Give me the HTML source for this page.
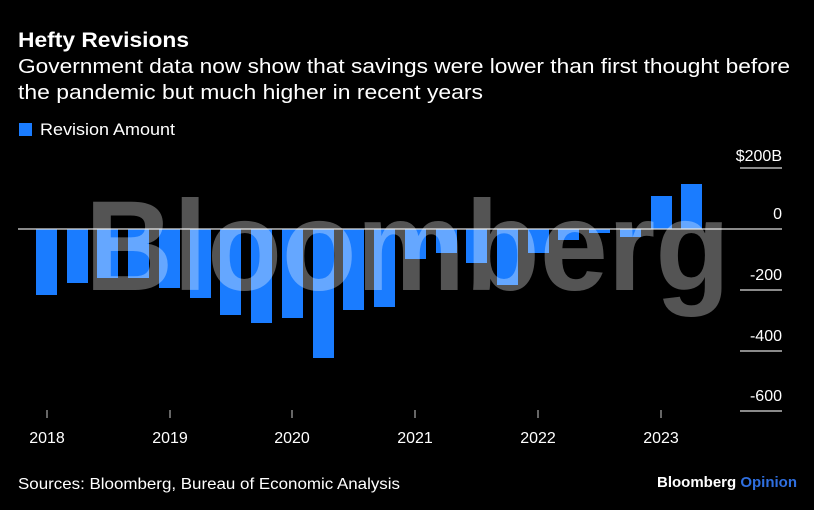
<!DOCTYPE html>
<html><head><meta charset="utf-8"><style>
html,body{margin:0;padding:0;background:#000;}
svg{display:block;font-family:"Liberation Sans",Arial,sans-serif;}
</style></head><body>
<svg width="814" height="510" viewBox="0 0 814 510" xmlns="http://www.w3.org/2000/svg">
<rect width="814" height="510" fill="#000"/>
<text x="18" y="47" fill="#fff" font-size="21" font-weight="bold" textLength="171" lengthAdjust="spacingAndGlyphs">Hefty Revisions</text>
<text x="18" y="73" fill="#fff" font-size="20" textLength="772" lengthAdjust="spacingAndGlyphs">Government data now show that savings were lower than first thought before</text>
<text x="18" y="99" fill="#fff" font-size="20" textLength="465" lengthAdjust="spacingAndGlyphs">the pandemic but much higher in recent years</text>
<rect x="19" y="123" width="13" height="13" fill="#1a7cff"/>
<text x="40" y="135" fill="#fff" font-size="16.5" textLength="135" lengthAdjust="spacingAndGlyphs">Revision Amount</text>
<g stroke="#ddd" stroke-width="1.2">
<line x1="740" y1="168" x2="782" y2="168"/>
<line x1="740" y1="290" x2="782" y2="290"/>
<line x1="740" y1="351" x2="782" y2="351"/>
<line x1="740" y1="411" x2="782" y2="411"/>
</g>
<g fill="#fff" font-size="16" text-anchor="end">
<text x="782" y="161">$200B</text>
<text x="782" y="219">0</text>
<text x="782" y="280">-200</text>
<text x="782" y="341">-400</text>
<text x="782" y="401">-600</text>
</g>
<g fill="#1a7cff">
<rect x="36" y="229" width="21" height="66"/>
<rect x="67" y="229" width="21" height="54"/>
<rect x="97" y="229" width="21" height="49"/>
<rect x="128" y="229" width="21" height="49"/>
<rect x="159" y="229" width="21" height="59"/>
<rect x="190" y="229" width="21" height="69"/>
<rect x="220" y="229" width="21" height="86"/>
<rect x="251" y="229" width="21" height="94"/>
<rect x="282" y="229" width="21" height="89"/>
<rect x="313" y="229" width="21" height="129"/>
<rect x="343" y="229" width="21" height="81"/>
<rect x="374" y="229" width="21" height="78"/>
<rect x="405" y="229" width="21" height="30"/>
<rect x="436" y="229" width="21" height="24"/>
<rect x="466" y="229" width="21" height="34"/>
<rect x="497" y="229" width="21" height="56"/>
<rect x="528" y="229" width="21" height="24"/>
<rect x="558" y="229" width="21" height="11"/>
<rect x="589" y="229" width="21" height="4"/>
<rect x="620" y="229" width="21" height="8"/>
<rect x="651" y="196" width="21" height="33"/>
<rect x="681" y="184" width="21" height="45"/>
</g>
<line x1="18" y1="229" x2="782" y2="229" stroke="#ddd" stroke-width="1.2"/>
<text x="85" y="290" fill="#fff" fill-opacity="0.33" font-size="128" font-weight="bold" stroke="#fff" stroke-opacity="0" textLength="645" lengthAdjust="spacingAndGlyphs">Bloomberg</text>
<g stroke="#ccc" stroke-width="1">
<line x1="47" y1="410" x2="47" y2="418"/>
<line x1="170" y1="410" x2="170" y2="418"/>
<line x1="292" y1="410" x2="292" y2="418"/>
<line x1="415" y1="410" x2="415" y2="418"/>
<line x1="538" y1="410" x2="538" y2="418"/>
<line x1="661" y1="410" x2="661" y2="418"/>
</g>
<g fill="#fff" font-size="16" text-anchor="middle">
<text x="47" y="443">2018</text>
<text x="170" y="443">2019</text>
<text x="292" y="443">2020</text>
<text x="415" y="443">2021</text>
<text x="538" y="443">2022</text>
<text x="661" y="443">2023</text>
</g>
<text x="18" y="489" fill="#fff" font-size="16" textLength="382" lengthAdjust="spacingAndGlyphs">Sources: Bloomberg, Bureau of Economic Analysis</text>
<text x="797" y="487" font-size="15" font-weight="bold" text-anchor="end"><tspan fill="#fff">Bloomberg </tspan><tspan fill="#2f6fe0">Opinion</tspan></text>
</svg>
</body></html>
